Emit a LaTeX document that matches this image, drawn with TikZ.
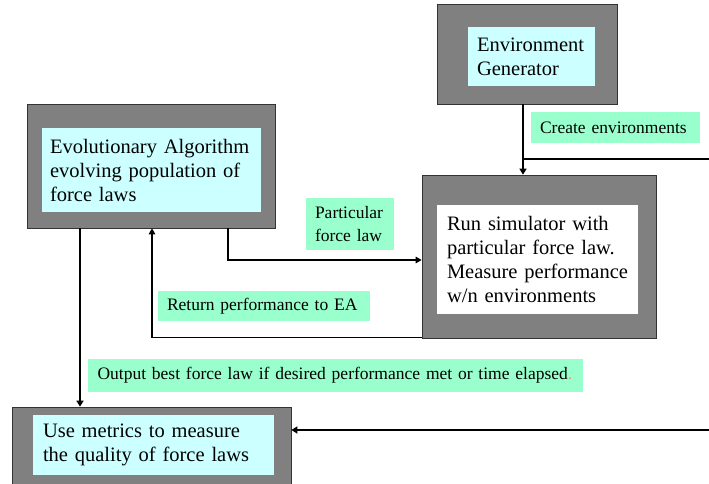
\documentclass[tikz,border=0pt]{standalone}
\usepackage{fontspec}
\setmainfont{Liberation Serif}
\usetikzlibrary{arrows.meta}
\definecolor{outergray}{HTML}{808080}
\definecolor{innercyan}{HTML}{CCFFFF}
\definecolor{labelgreen}{HTML}{99FFCC}
\definecolor{dotorange}{HTML}{F0A050}
\tikzset{
  outerbox/.style={draw=black!80, line width=0.7pt, fill=outergray, minimum width=#1, inner sep=0pt},
  innerbox/.style={fill=innercyan, inner sep=0pt, align=left, font=\fontsize{20.5}{24}\selectfont},
  lbl/.style={fill=labelgreen, inner sep=0pt, align=left, font=\fontsize{17.5}{23}\selectfont},
  thickarrow/.style={line width=2.6pt, -{Triangle[length=6pt,width=7pt]}},
  thinarrow/.style={line width=1.6pt, -{Triangle[length=6pt,width=6.5pt]}},
  thinline/.style={line width=1.6pt},
}
\begin{document}
\begin{tikzpicture}[x=1pt,y=-1pt]
\useasboundingbox (0,0) rectangle (709,484);
\clip (0,0) rectangle (709,484);
% outer boxes
\node[outerbox=180pt, minimum height=100pt] (envO) at (527,54) {};
\node[outerbox=248pt, minimum height=124pt] (eaO) at (151,166) {};
\node[outerbox=234pt, minimum height=163pt] (simO) at (539,256.5) {};
\node[outerbox=279pt, minimum height=94pt] (metO) at (151.5,454) {};
% inner boxes
\node[innerbox, minimum width=127pt, minimum height=59pt, text width=109pt] (envI) at (531.5,56.5)
  {Environment\\Generator};
\node[innerbox, minimum width=219pt, minimum height=84pt, text width=203pt] (eaI) at (151.5,170)
  {Evolutionary Algorithm\\evolving population of\\force laws};
\node[innerbox, fill=white, minimum width=201pt, minimum height=109pt, text width=181pt] (simI) at (537.5,259.5)
  {Run simulator with\\particular force law.\\Measure performance\\w/n environments};
\node[innerbox, minimum width=241pt, minimum height=60pt, text width=221pt] (metI) at (153.5,445)
  {Use metrics to measure\\the quality of force laws};
% labels
\node[lbl, minimum width=169pt, minimum height=31pt, text width=151pt] (createL) at (615.5,127.5)
  {Create environments};
\node[lbl, minimum width=88pt, minimum height=52pt, text width=70pt] (partL) at (350,224)
  {Particular\\force law};
\node[lbl, minimum width=212pt, minimum height=30pt, text width=194pt] (retL) at (264,306)
  {Return performance to EA};
\node[lbl, minimum width=495pt, minimum height=33pt, text width=476pt] (outL) at (335.5,375.5)
  {Output best force law if desired performance met or time elapsed{\color{dotorange}.}};
% connectors
\coordinate (jn) at (523,159);
\coordinate (envR) at (709,159);
\coordinate (metR) at (709,430);
\draw[thickarrow] ([xshift=-4pt]envO.south) -- ([xshift=-16pt]simO.north);
\draw[thinline] (jn) -- (envR);
\draw[thinarrow] ([xshift=77pt]eaO.south) |- ([yshift=-3.5pt]simO.west);
\draw[thinarrow] ([yshift=1pt]simO.south west) -| ([xshift=1pt]eaO.south);
\draw[thickarrow] ([xshift=-71pt]eaO.south) -- ([xshift=-71pt]eaO.south |- metO.north);
\draw[thickarrow] (metR) -- (metR -| metO.east);
\end{tikzpicture}
\end{document}
